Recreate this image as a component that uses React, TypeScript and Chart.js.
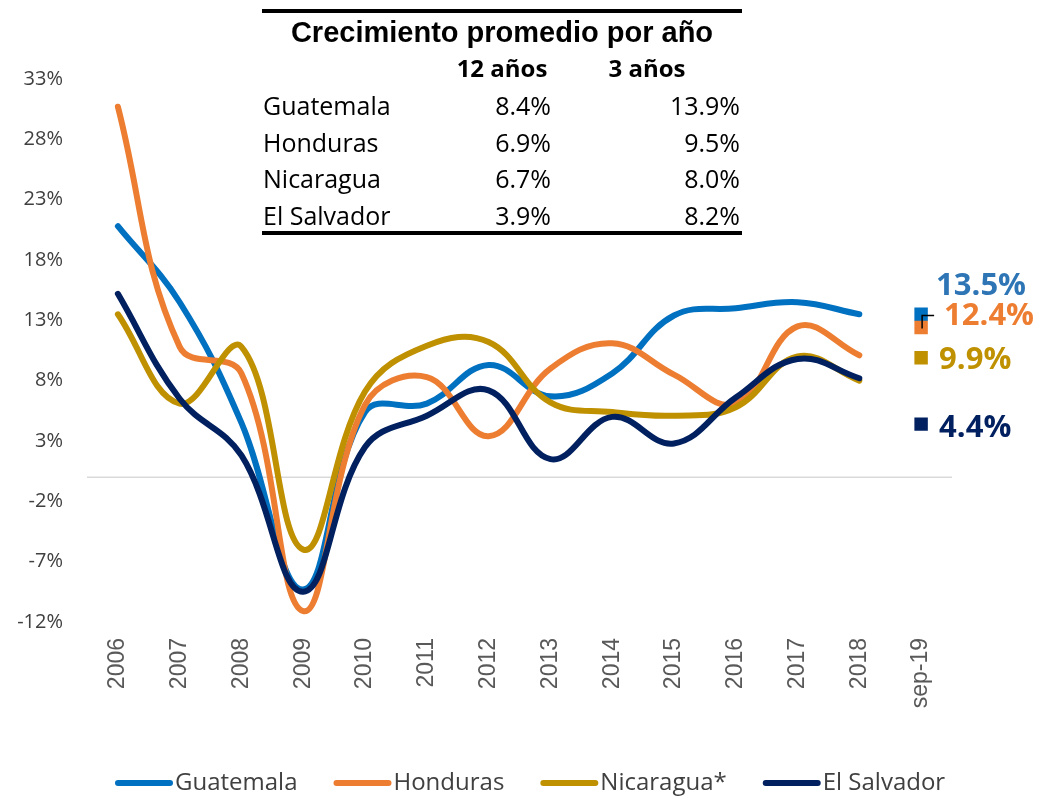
import React, { useEffect, useRef } from "react";
import { Chart, registerables } from "chart.js";

Chart.register(...registerables);

// ---------- DATA ----------
const categories = ["2006", "2007", "2008", "2009", "2010", "2011", "2012", "2013", "2014", "2015", "2016", "2017", "2018", "sep-19"];
const guatemala = [20.8, 14.5, 4.5, -9.3, 5.4, 6.1, 9.3, 6.7, 8.6, 13.4, 14.0, 14.5, 13.5];
const honduras = [30.7, 10.8, 8.6, -11.1, 6.0, 8.3, 3.4, 9.0, 11.1, 8.5, 6.1, 12.5, 10.1];
const nicaragua = [13.5, 6.1, 10.8, -6.0, 7.1, 10.9, 11.2, 6.2, 5.4, 5.1, 5.8, 10.0, 8.0];
const elSalvador = [15.2, 6.5, 1.8, -9.5, 2.5, 5.1, 7.2, 1.5, 5.0, 2.8, 6.6, 9.8, 8.2];
const sep19Values = [13.5, 12.4, 9.9, 4.4];
const seriesNames = ["Guatemala", "Honduras", "Nicaragua*", "El Salvador"];
const yTickValues = [-12, -7, -2, 3, 8, 13, 18, 23, 28, 33];

const tableTitle = "Crecimiento promedio por año";
const tableHeaders = ["12 años", "3 años"];
const tableCountries = ["Guatemala", "Honduras", "Nicaragua", "El Salvador"];
const growth12y = [8.4, 6.9, 6.7, 3.9];
const growth3y = [13.9, 9.5, 8.0, 8.2];

// ---------- STYLE ----------
const seriesColors = ["#0070C0", "#ED7D31", "#BF9000", "#002060"];
const labelColors = ["#2E75B6", "#ED7D31", "#BF9000", "#002060"];
const labelOffsets = [
  [15, -28],
  [23, -11],
  [18, 2],
  [18, 4],
];

const pct = (v: number) => v.toFixed(1) + "%";

const zeroLinePlugin = {
  id: "zeroLine",
  beforeDatasetsDraw(chart: any) {
    const { ctx, chartArea, scales } = chart;
    const y = scales.y.getPixelForValue(0);
    ctx.save();
    ctx.strokeStyle = "#D9D9D9";
    ctx.lineWidth = 1.5;
    ctx.beginPath();
    ctx.moveTo(chartArea.left, y);
    ctx.lineTo(chartArea.right, y);
    ctx.stroke();
    ctx.restore();
  },
};

const endLabelsPlugin = {
  id: "endLabels",
  afterDatasetsDraw(chart: any) {
    const { ctx } = chart;
    const last = categories.length - 1;
    ctx.save();
    ctx.font = "bold 31px 'Open Sans'";
    ctx.textAlign = "left";
    ctx.textBaseline = "middle";
    sep19Values.forEach((v, i) => {
      const meta = chart.getDatasetMeta(4 + i);
      const pt = meta.data[last];
      if (!pt) return;
      ctx.fillStyle = labelColors[i];
      ctx.fillText(pct(v), pt.x + labelOffsets[i][0], pt.y + labelOffsets[i][1]);
      if (i === 1) {
        ctx.strokeStyle = "#000";
        ctx.lineWidth = 1.5;
        ctx.beginPath();
        ctx.moveTo(pt.x + 13, pt.y - 12);
        ctx.lineTo(pt.x + 1, pt.y - 12);
        ctx.lineTo(pt.x + 1, pt.y + 1);
        ctx.stroke();
      }
    });
    ctx.restore();
  },
};

const tablePlugin = {
  id: "summaryTable",
  afterDraw(chart: any) {
    const { ctx } = chart;
    ctx.save();
    ctx.fillStyle = "#000";
    ctx.fillRect(262, 9, 480, 4);
    ctx.fillRect(262, 231, 480, 4);
    ctx.textBaseline = "alphabetic";
    ctx.textAlign = "center";
    ctx.font = "bold 29px 'Liberation Sans'";
    ctx.fillText(tableTitle, 502, 42);
    ctx.font = "bold 24px 'Open Sans'";
    ctx.fillText(tableHeaders[0], 502, 77);
    ctx.fillText(tableHeaders[1], 647, 77);
    ctx.font = "25px 'Open Sans'";
    tableCountries.forEach((c, i) => {
      const y = 115 + i * 36.7;
      ctx.textAlign = "left";
      ctx.fillText(c, 263, y);
      ctx.textAlign = "right";
      ctx.fillText(pct(growth12y[i]), 551, y);
      ctx.fillText(pct(growth3y[i]), 740, y);
    });
    ctx.restore();
  },
};

const legendPlugin = {
  id: "customLegend",
  afterDraw(chart: any) {
    const { ctx } = chart;
    ctx.save();
    ctx.font = "24px 'Open Sans'";
    ctx.textBaseline = "middle";
    ctx.textAlign = "left";
    let x = 115;
    const y = 783;
    seriesNames.forEach((name, i) => {
      ctx.strokeStyle = seriesColors[i];
      ctx.lineWidth = 6;
      ctx.lineCap = "round";
      ctx.beginPath();
      ctx.moveTo(x + 3, y);
      ctx.lineTo(x + 55, y);
      ctx.stroke();
      ctx.fillStyle = "#404040";
      ctx.fillText(name, x + 60, y);
      x += 60 + ctx.measureText(name).width + 36;
    });
    ctx.restore();
  },
};

export default function App() {
  const ref = useRef<HTMLCanvasElement | null>(null);

  useEffect(() => {
    if (!ref.current) return;
    const lineSeries = [guatemala, honduras, nicaragua, elSalvador];
    const drawOrder = [3, 2, 1, 0];
    const lineDatasets = lineSeries.map((data, i) => ({
      label: seriesNames[i],
      data,
      borderColor: seriesColors[i],
      backgroundColor: seriesColors[i],
      borderWidth: 6,
      pointRadius: 0,
      pointHoverRadius: 0,
      tension: 0.4,
      fill: false,
      order: drawOrder[i],
      borderCapStyle: "round" as const,
    }));
    const markerDatasets = sep19Values.map((v, i) => ({
      label: seriesNames[i] + " sep-19",
      data: categories.map((_, j) => (j === categories.length - 1 ? v : null)),
      borderColor: seriesColors[i],
      backgroundColor: seriesColors[i],
      showLine: false,
      pointStyle: "rect" as const,
      pointRadius: 9.5,
      pointBorderWidth: 0,
      order: drawOrder[i],
    }));

    const chart = new Chart(ref.current, {
      type: "line",
      data: { labels: categories, datasets: [...lineDatasets, ...markerDatasets] as any },
      options: {
        responsive: false,
        animation: false,
        layout: { padding: { top: 79, right: 86, bottom: 75, left: 0 } },
        plugins: {
          legend: { display: false },
          tooltip: { enabled: false },
        },
        scales: {
          x: {
            offset: true,
            grid: { display: false, drawTicks: false },
            border: { display: false },
            ticks: {
              minRotation: 90,
              maxRotation: 90,
              padding: 16,
              color: "#595959",
              font: { family: "'Liberation Sans'", size: 23 },
            },
            afterFit(scale: any) {
              scale.height = 100;
            },
          },
          y: {
            min: -12,
            max: 33,
            grid: { display: false, drawTicks: false },
            border: { display: false },
            ticks: {
              stepSize: 5,
              padding: 24,
              color: "#404040",
              font: { family: "'Open Sans'", size: 20 },
              callback: (v: any) => v + "%",
            },
            afterBuildTicks(scale: any) {
              scale.ticks = yTickValues.map((v) => ({ value: v }));
            },
            afterFit(scale: any) {
              scale.width = 87;
            },
          },
        },
      },
      plugins: [zeroLinePlugin, endLabelsPlugin, tablePlugin, legendPlugin],
    });
    return () => chart.destroy();
  }, []);

  return (
    <div style={{ position: "fixed", left: 0, top: 0, width: 1038, height: 797, background: "#fff" }}>
      <canvas ref={ref} width={1038} height={797} style={{ display: "block" }} />
    </div>
  );
}
